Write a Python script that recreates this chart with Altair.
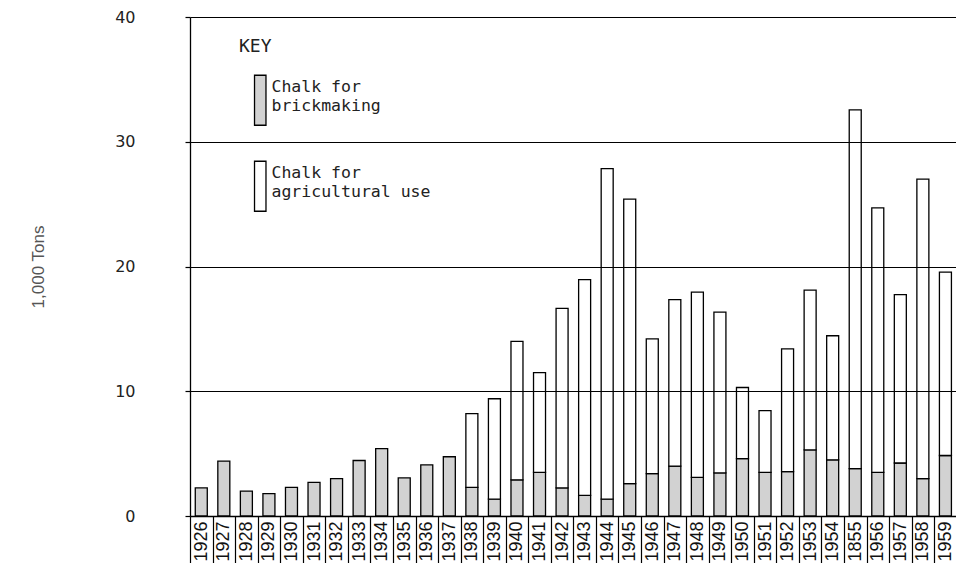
import altair as alt
import pandas as pd

years = ["1926", "1927", "1928", "1929", "1930", "1931", "1932", "1933", "1934",
         "1935", "1936", "1937", "1938", "1939", "1940", "1941", "1942", "1943",
         "1944", "1945", "1946", "1947", "1948", "1949", "1950", "1951", "1952",
         "1953", "1954", "1855", "1956", "1957", "1958", "1959", "1960"]

brick = [2.25, 4.4, 2.0, 1.8, 2.3, 2.7, 3.0, 4.45, 5.4,
         3.05, 4.1, 4.75, 2.3, 1.35, 2.9, 3.5, 2.25, 1.65,
         1.35, 2.6, 3.4, 4.0, 3.1, 3.45, 4.6, 3.5, 3.55,
         5.3, 4.5, 3.8, 3.5, 4.25, 3.0, 4.85, 5.1]

agricultural = [0, 0, 0, 0, 0, 0, 0, 0, 0,
                0, 0, 0, 5.9, 8.05, 11.1, 8.0, 14.4, 17.3,
                26.5, 22.8, 10.8, 13.35, 14.85, 12.9, 5.7, 4.95, 9.85,
                12.8, 9.95, 28.75, 21.2, 13.5, 24.0, 14.7, 14.5]

uses = ["brick", "agri"]
use_colors = ["#d2d2d2", "#ffffff"]
y_ticks = [0, 10, 20, 30, 40]

rows = []
for yr, b, a in zip(years, brick, agricultural):
    rows.append({"year": yr, "use": "brick", "ord": 0, "tons": b})
    if a > 0:
        rows.append({"year": yr, "use": "agri", "ord": 1, "tons": a})
df = pd.DataFrame(rows)

STEP = 22.55
N = len(years)
W = 766
H = 499

label_expr = ("datum.value == 'brick' ? ['Chalk for', 'brickmaking'] "
              ": ['Chalk for', 'agricultural use']")

chart = alt.Chart(df).mark_bar(width=12, stroke="black", strokeWidth=1.3).encode(
    x=alt.X(
        "year:N", sort=years,
        scale=alt.Scale(range=[0, STEP * N], paddingInner=0, paddingOuter=0),
        axis=alt.Axis(
            title=None, labelAngle=-90, labelAlign="right", labelBaseline="middle",
            labelFont="Liberation Sans", labelFontSize=18, labelColor="#111",
            labelPadding=-55, tickBand="extent", tickSize=60, tickColor="black",
            tickWidth=1.2, domainColor="black", domainWidth=1.3, grid=False,
        ),
    ),
    y=alt.Y(
        "tons:Q", stack="zero",
        scale=alt.Scale(domain=[0, 40], nice=False),
        axis=alt.Axis(
            title="1,000 Tons", values=y_ticks, grid=True, gridColor="black",
            gridWidth=1.2, gridOpacity=1, domainColor="black", domainWidth=1.3,
            tickColor="black", tickSize=5, tickWidth=1.2, labelPadding=50,
            labelFont="DejaVu Sans", labelFontSize=16, labelColor="#222",
            titleFont="Liberation Sans", titleFontSize=17, titleFontWeight="normal",
            titleColor="#555", titleX=-143, zindex=1,
        ),
    ),
    color=alt.Color(
        "use:N",
        scale=alt.Scale(domain=uses, range=use_colors),
        legend=alt.Legend(
            title="KEY", orient="none", legendX=49, legendY=21, padding=0,
            symbolType="M-0.78,-1.63H0.78V5.17H-0.78Z", symbolSize=216,
            symbolStrokeColor="black", symbolStrokeWidth=1.3, symbolOffset=13,
            labelOffset=3, labelExpr=label_expr, labelFont="DejaVu Sans Mono",
            labelFontSize=16.5, labelColor="#222", titleFont="DejaVu Sans Mono",
            titleFontSize=18, titleFontWeight="normal", titleColor="#222",
            titlePadding=23, rowPadding=30,
        ),
    ),
    order=alt.Order("ord:Q"),
).properties(
    width=W, height=H,
    autosize=alt.AutoSizeParams(type="none"),
    padding={"left": 182, "top": 9, "right": 0, "bottom": 47},
    background="white",
).configure_view(stroke=None)

chart.save("out.html", embed_options={"renderer": "svg", "actions": False})
